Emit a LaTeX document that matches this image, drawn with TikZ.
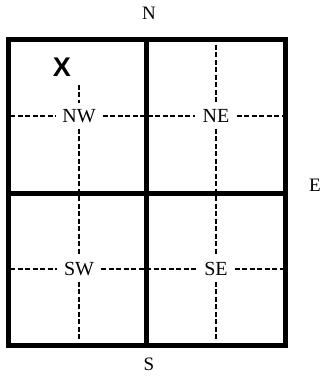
\documentclass[tikz,border=0pt]{standalone}
\usepackage{fontspec}
\setmainfont{Liberation Serif}
\setsansfont{Liberation Sans}
\usepackage{tikz}
\usetikzlibrary{positioning}
\tikzset{
    wall/.style={line width=5pt, line cap=rect},
    guide/.style={line width=1.5pt, dash pattern=on 5pt off 2.5pt},
    quad/.style={font=\fontsize{20}{22}\selectfont, inner xsep=7pt, inner ysep=6pt},
    compass/.style={font=\fontsize{19}{22}\selectfont}
}

\begin{document}
\begin{tikzpicture}[x=1pt, y=-1pt]
    \useasboundingbox (0,0) rectangle (323,377);
    % the four quadrants
    \draw[wall] (8,40) rectangle (285,345);
    \draw[wall] (146,40) -- (146,345);
    \draw[wall] (8,193) -- (285,193);
    % quadrant labels
    \node[quad] (nw) at (79,116) {NW};
    \node[quad] (ne) at (216,116) {NE};
    \node[quad] (sw) at (79,269) {SW};
    \node[quad] (se) at (216,269) {SE};
    \node[font=\fontsize{27}{28}\selectfont\sffamily\bfseries] (x) at (62,67) {X};
    % ends of the guide lines
    \coordinate (nwtop) at (79,85);
    \coordinate (netop) at (216,45);
    \coordinate (swbot) at (79,341);
    \coordinate (sebot) at (216,341);
    \coordinate (toprowL) at (10,116);
    \coordinate (toprowR) at (283,116);
    \coordinate (botrowL) at (10,269);
    \coordinate (botrowR) at (283,269);
    \draw[guide] (nwtop) -- (nw) -- (sw) -- (swbot);
    \draw[guide] (netop) -- (ne) -- (se) -- (sebot);
    \draw[guide] (toprowL) -- (nw) -- (ne) -- (toprowR);
    \draw[guide] (botrowL) -- (sw) -- (se) -- (botrowR);
    % compass points
    \node[compass] (n) at (149,13) {N};
    \node[compass] (e) at (315,185) {E};
    \node[compass] (s) at (149,364) {S};
\end{tikzpicture}
\end{document}
